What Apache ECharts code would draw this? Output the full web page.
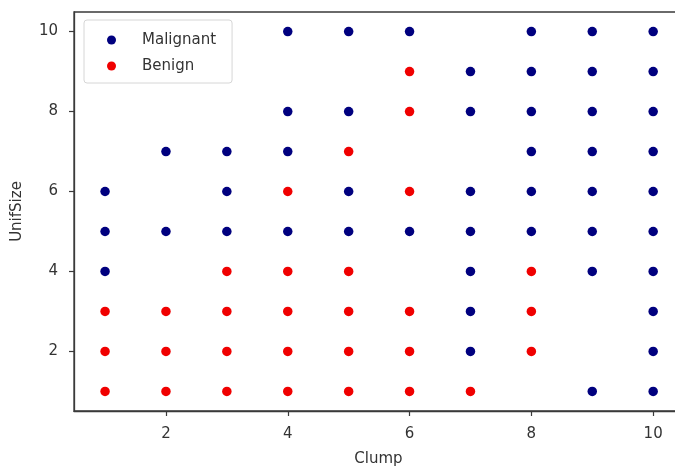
<!DOCTYPE html>
<html>
<head>
<meta charset="utf-8">
<script src="https://cdn.jsdelivr.net/npm/echarts@6/dist/echarts.min.js"></script>
<style>html,body{margin:0;padding:0;background:#fff}#c{width:675px;height:467px}</style>
</head>
<body>
<div id="c"></div>
<script>
const xTicks = [2, 4, 6, 8, 10];
const yTicks = [2, 4, 6, 8, 10];
const malignantClump = [4,5,6,8,9,10, 7,8,9,10, 4,5,7,8,9,10, 2,3,4,8,9,10, 1,3,5,7,8,9,10, 1,2,3,4,5,6,7,8,9,10, 1,7,9,10, 7,10, 7,10, 9,10];
const malignantUnif = [10,10,10,10,10,10, 9,9,9,9, 8,8,8,8,8,8, 7,7,7,7,7,7, 6,6,6,6,6,6,6, 5,5,5,5,5,5,5,5,5,5, 4,4,4,4, 3,3, 2,2, 1,1];
const benignClump = [6, 6, 5, 4,6, 3,4,5,8, 1,2,3,4,5,6,8, 1,2,3,4,5,6,8, 1,2,3,4,5,6,7];
const benignUnif = [9, 8, 7, 6,6, 4,4,4,4, 3,3,3,3,3,3,3, 2,2,2,2,2,2,2, 1,1,1,1,1,1,1];

const pair = (xs, ys) => xs.map((x, i) => [x, ys[i]]);
const font = 'DejaVu Sans';
const axisCommon = {
  axisLine: {show: true, onZero: false, lineStyle: {color: '#3a3a3a', width: 1.3}},
  axisTick: {show: true, length: 5, lineStyle: {color: '#3a3a3a', width: 1.2}},
  splitLine: {show: false},
  axisLabel: {color: '#333', fontFamily: font, fontSize: 15},
  nameTextStyle: {color: '#333', fontFamily: font, fontSize: 15}
};
const chart = echarts.init(document.getElementById('c'), null, {renderer: 'canvas'});
chart.setOption({
  animation: false,
  backgroundColor: '#fff',
  grid: {left: 74, top: 12, width: 609, height: 399, outerBoundsMode: 'none', containLabel: false, show: true, borderColor: '#3a3a3a', borderWidth: 1.3, backgroundColor: 'transparent'},
  legend: {
    left: 84, top: 20, orient: 'vertical', icon: 'circle', itemWidth: 9, itemHeight: 9, itemGap: 8,
    padding: [11, 16, 8, 23], borderColor: '#d6d6d6', borderWidth: 1, borderRadius: 3, backgroundColor: 'rgba(255,255,255,0.8)',
    textStyle: {color: '#333', fontFamily: font, fontSize: 15, lineHeight: 18, padding: [0, 0, 0, 21]},
    data: ['Malignant', 'Benign']
  },
  xAxis: Object.assign({}, axisCommon, {
    type: 'value', min: 0.49, max: 10.49, name: 'Clump', nameLocation: 'middle', nameGap: 41,
    axisTick: Object.assign({}, axisCommon.axisTick, {customValues: xTicks}),
    axisLabel: Object.assign({}, axisCommon.axisLabel, {customValues: xTicks, margin: 16})
  }),
  yAxis: Object.assign({}, axisCommon, {
    type: 'value', min: 0.51, max: 10.49, name: 'UnifSize', nameLocation: 'middle', nameGap: 49,
    axisTick: Object.assign({}, axisCommon.axisTick, {customValues: yTicks}),
    axisLabel: Object.assign({}, axisCommon.axisLabel, {customValues: yTicks, margin: 16})
  }),
  series: [
    {name: 'Malignant', type: 'scatter', symbolSize: 9.5, itemStyle: {color: '#00007f', opacity: 1}, data: pair(malignantClump, malignantUnif)},
    {name: 'Benign', type: 'scatter', symbolSize: 9.5, itemStyle: {color: '#f00000', opacity: 1}, data: pair(benignClump, benignUnif)}
  ]
});
</script>
</body>
</html>
